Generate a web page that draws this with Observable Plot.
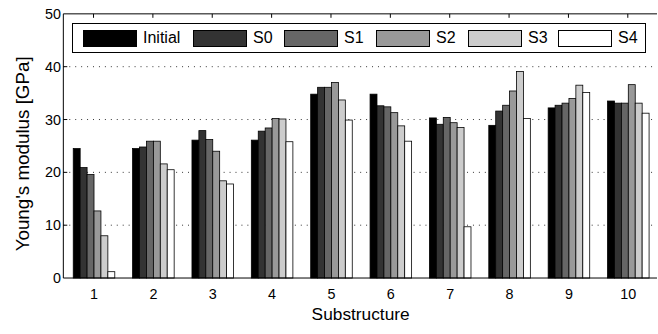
<!DOCTYPE html>
<html>
<head>
<meta charset="utf-8">
<script src="https://cdn.jsdelivr.net/npm/d3@7"></script>
<script src="https://cdn.jsdelivr.net/npm/@observablehq/plot@0.6"></script>
<style>
  html, body { margin: 0; padding: 0; background: #fff; overflow: hidden; }
  #wrap { position: relative; width: 658px; height: 334px; overflow: hidden; }
  #wrap svg { position: absolute; left: 0; top: 0; }
  #legend {
    position: absolute; left: 72px; top: 23px; width: 562px; height: 28px;
    border: 1px solid #000; background: #fff; display: flex; align-items: center;
    font-family: "Liberation Sans", Arial, sans-serif; font-size: 16px; color: #000;
    padding-left: 10px; box-sizing: content-box;
  }
  #legend .item { display: flex; align-items: center; flex: 0 0 auto; }
  #legend .sw { width: 52px; height: 15px; border: 1px solid #000; margin-right: 6px; flex: 0 0 auto; }
</style>
</head>
<body>
<div id="wrap"></div>
<script>
// ---- data ----
const groups = [1, 2, 3, 4, 5, 6, 7, 8, 9, 10];
const series = ["Initial", "S0", "S1", "S2", "S3", "S4"];
const fills = ["#000000", "#333333", "#666666", "#999999", "#cccccc", "#ffffff"];
const yTicks = [0, 10, 20, 30, 40, 50];
const xLabel = "Substructure";
const yLabel = "Young's modulus [GPa]";

const initial = [24.5, 24.5, 26.1, 26.1, 34.8, 34.8, 30.3, 28.9, 32.2, 33.5];
const s0      = [20.9, 24.8, 27.9, 27.8, 36.1, 32.6, 29.1, 31.6, 32.7, 33.1];
const s1      = [19.6, 25.9, 26.2, 28.4, 36.1, 32.4, 30.4, 32.7, 33.1, 33.1];
const s2      = [12.7, 25.9, 24.0, 30.2, 37.0, 31.3, 29.4, 35.4, 34.0, 36.6];
const s3      = [ 8.0, 21.6, 18.4, 30.1, 33.7, 28.8, 28.5, 39.1, 36.5, 33.1];
const s4      = [ 1.2, 20.5, 17.8, 25.8, 29.9, 25.9,  9.7, 30.2, 35.1, 31.2];

const seriesValues = [initial, s0, s1, s2, s3, s4];
const rows = [];
groups.forEach((g, gi) => series.forEach((s, si) => rows.push({group: g, series: s, value: seriesValues[si][gi]})));

// ---- layout ----
const W = 665, H = 334, mL = 64, mR = 1, mT = 14, mB = 53;
const FONT = "'Liberation Sans', Arial, sans-serif";

const plot = Plot.plot({
  width: W, height: H,
  marginLeft: mL, marginRight: mR, marginTop: mT, marginBottom: mB,
  style: {fontFamily: FONT, fontSize: "14.5px", color: "#000", background: "transparent"},
  fx: {domain: groups, paddingInner: 0.22, paddingOuter: 0.11, label: null, tickSize: 0, tickPadding: 10},
  x: {domain: series, axis: null, padding: 0},
  y: {domain: [0, 50], ticks: yTicks, tickSize: 0, tickPadding: 10, label: null},
  color: {domain: series, range: fills},
  marks: [
    Plot.barY(rows, {fx: "group", x: "series", y: "value", fill: "series", stroke: "#000", strokeWidth: 0.8})
  ]
});

document.getElementById("wrap").appendChild(plot);
const svg = d3.select(plot.tagName.toLowerCase() === "svg" ? plot : plot.querySelector("svg"));

// ---- frame, grid and inward ticks using the plot's own scales ----
const ys = plot.scale("y");
const fxs = plot.scale("fx");
const left = mL, right = W - mR;
const yTop = ys.apply(50), yBot = ys.apply(0);

const grid = svg.insert("g", "g");
grid.selectAll("line").data(yTicks.filter(v => v > 0 && v < 50)).join("line")
  .attr("x1", left).attr("x2", right)
  .attr("y1", d => ys.apply(d)).attr("y2", d => ys.apply(d))
  .attr("stroke", "#333").attr("stroke-width", 1).attr("stroke-dasharray", "1,5");

const fr = svg.append("g").attr("stroke", "#000").attr("stroke-width", 1).attr("fill", "none");
fr.append("line").attr("x1", left).attr("x2", right).attr("y1", yTop).attr("y2", yTop);
fr.append("line").attr("x1", left).attr("x2", right).attr("y1", yBot).attr("y2", yBot);
fr.append("line").attr("x1", left).attr("x2", left).attr("y1", yTop).attr("y2", yBot);
const cx = g => fxs.apply(g) + (fxs.bandwidth || 0) / 2;
fr.selectAll(".tt").data(groups).join("line").attr("class", "tt")
  .attr("x1", cx).attr("x2", cx).attr("y1", yTop).attr("y2", yTop + 4);
fr.selectAll(".ty").data(yTicks.filter(v => v > 0 && v < 50)).join("line").attr("class", "ty")
  .attr("x1", left).attr("x2", left + 4)
  .attr("y1", d => ys.apply(d)).attr("y2", d => ys.apply(d));

// ---- axis titles ----
svg.append("text").text(xLabel)
  .attr("x", (cx(groups[0]) + cx(groups[groups.length - 1])) / 2).attr("y", yBot + 42)
  .attr("text-anchor", "middle").attr("font-family", FONT).attr("font-size", "17.5px").attr("fill", "#000");
svg.append("text").text(yLabel)
  .attr("transform", `translate(29, ${(yTop + yBot) / 2 + 8}) rotate(-90)`)
  .attr("text-anchor", "middle").attr("font-family", FONT).attr("font-size", "19px").attr("fill", "#000");

// ---- legend ----
const legend = d3.select("#wrap").append("div").attr("id", "legend");
const itemWidths = [110, 91, 92, 92, 90, null];
series.forEach((s, i) => {
  const it = legend.append("div").attr("class", "item");
  if (itemWidths[i]) it.style("width", itemWidths[i] + "px");
  it.append("div").attr("class", "sw").style("background", fills[i]);
  it.append("span").text(s);
});
</script>
</body>
</html>
